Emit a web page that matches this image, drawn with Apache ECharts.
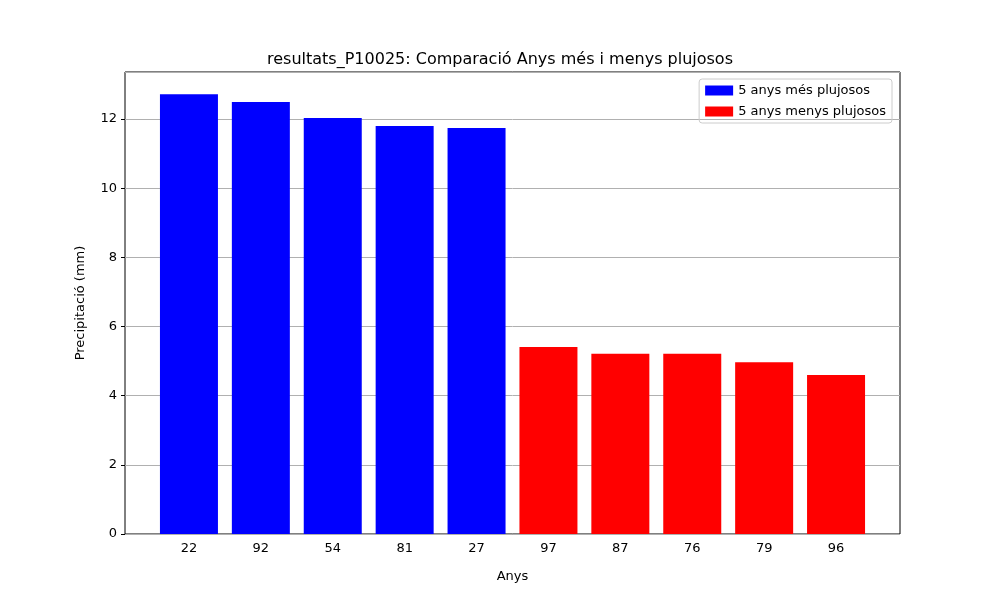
<!DOCTYPE html><html><head><meta charset="utf-8"><script src="https://cdn.jsdelivr.net/npm/echarts@6/dist/echarts.min.js"></script></head><body style="margin:0"><div id="c" style="width:1000px;height:600px"></div><script>
const categories=['22','92','54','81','27','97','87','76','79','96'];
const wettest=[12.72,12.49,12.03,11.80,11.74,null,null,null,null,null];
const driest=[null,null,null,null,null,5.41,5.21,5.21,4.97,4.60];
const font='DejaVu Sans';
const c=echarts.init(document.getElementById('c'));
c.setOption({animation:false,textStyle:{fontFamily:font},
title:{text:'resultats_P10025: Comparació Anys més i menys plujosos',left:'center',top:47,textStyle:{fontFamily:font,fontSize:16,fontWeight:'normal',color:'#000'}},
legend:{right:108,top:79,orient:'vertical',itemWidth:28,itemHeight:10,itemGap:8,padding:[5,6],borderColor:'#ccc',borderWidth:1,borderRadius:3,icon:'rect',textStyle:{fontFamily:font,fontSize:13,color:'#000'},data:['5 anys més plujosos','5 anys menys plujosos']},
grid:[{left:125,right:100,top:72,bottom:66,show:true,borderColor:'#000',borderWidth:1},{left:153,right:128,top:72,bottom:66}],
xAxis:[{gridIndex:0,type:'value',show:false,min:0,max:1},
{gridIndex:1,type:'category',data:categories,name:'Anys',nameLocation:'middle',nameGap:36,nameTextStyle:{fontSize:13,color:'#000'},axisLine:{show:false},axisTick:{alignWithLabel:true,length:4,lineStyle:{color:'#000'}},axisLabel:{fontSize:13,color:'#000',margin:8}}],
yAxis:[{gridIndex:0,type:'value',min:0,max:13.36,interval:2,name:'Precipitació (mm)',nameLocation:'middle',nameGap:38,nameTextStyle:{fontSize:13,color:'#000'},axisLine:{show:false},axisTick:{show:true,length:4,lineStyle:{color:'#000'}},axisLabel:{fontSize:13,color:'#000',showMaxLabel:false},splitLine:{lineStyle:{color:'#b0b0b0'}}},
{gridIndex:1,type:'value',min:0,max:13.36,show:false,splitLine:{show:false}}],
series:[{name:'5 anys més plujosos',type:'bar',xAxisIndex:1,yAxisIndex:1,data:wettest,barWidth:58,barGap:'-100%',itemStyle:{color:'#0000ff'}},
{name:'5 anys menys plujosos',type:'bar',xAxisIndex:1,yAxisIndex:1,data:driest,barWidth:58,itemStyle:{color:'#ff0000'}}]});
</script></body></html>
